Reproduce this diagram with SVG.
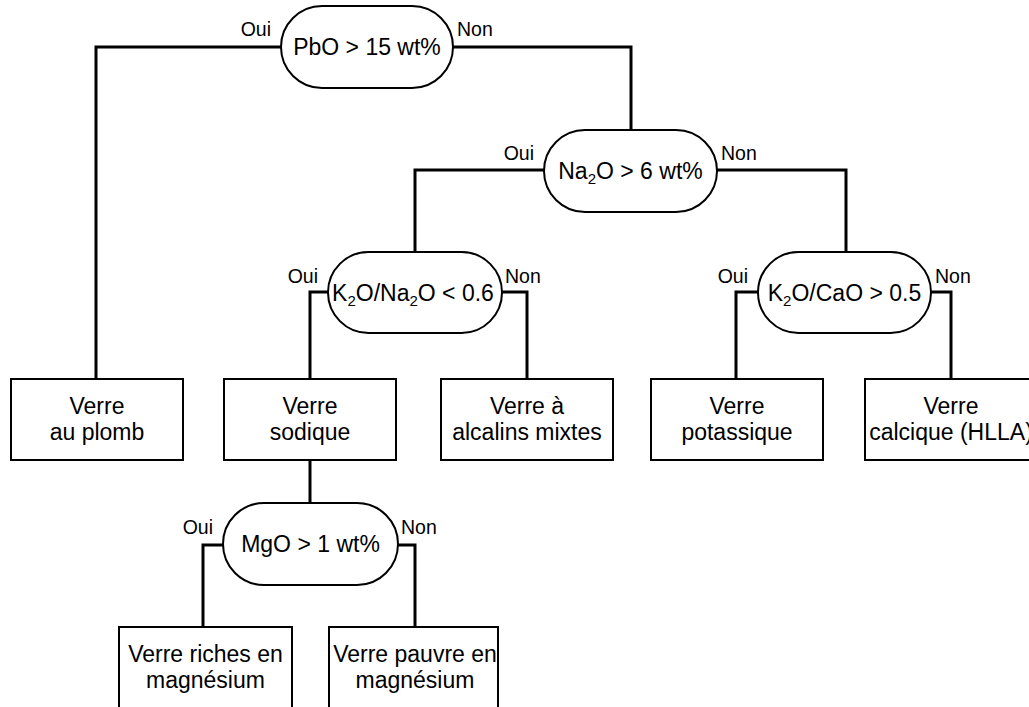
<svg xmlns="http://www.w3.org/2000/svg" width="1029" height="707" viewBox="0 0 1029 707">
<style>
.bg{fill:#ffffff}
.pill{fill:#ffffff;stroke:#000;stroke-width:2}
.box{fill:#ffffff;stroke:#000;stroke-width:2}
.conn{fill:none;stroke:#000;stroke-width:3}
.t{font-family:"Liberation Sans",Arial,sans-serif;font-size:23px;fill:#000;text-anchor:middle}
.lbl{font-family:"Liberation Sans",Arial,sans-serif;font-size:19.5px;fill:#000}
.oui{text-anchor:end}
.non{text-anchor:start}
.sub{font-size:15px}
</style>
<rect class="bg" x="0" y="0" width="1029" height="707"/>
<g id="connectors">
<polyline class="conn" points="281,47 96,47 96,379"/>
<polyline class="conn" points="453,47 631,47 631,130"/>
<polyline class="conn" points="544,170 415,170 415,252"/>
<polyline class="conn" points="717,170 846,170 846,252"/>
<polyline class="conn" points="328,292 310,292 310,379"/>
<polyline class="conn" points="502,292 527,292 527,379"/>
<polyline class="conn" points="758,292 736,292 736,379"/>
<polyline class="conn" points="931,292 951,292 951,379"/>
<polyline class="conn" points="310,460 310,503"/>
<polyline class="conn" points="223,545 203,545 203,627"/>
<polyline class="conn" points="398,545 415,545 415,627"/>
</g>
<g id="labels">
<text class="lbl oui" x="271" y="36">Oui</text>
<text class="lbl non" x="457" y="36">Non</text>
<text class="lbl oui" x="534" y="160">Oui</text>
<text class="lbl non" x="721" y="160">Non</text>
<text class="lbl oui" x="318" y="283">Oui</text>
<text class="lbl non" x="505" y="283">Non</text>
<text class="lbl oui" x="748" y="283">Oui</text>
<text class="lbl non" x="935" y="283">Non</text>
<text class="lbl oui" x="213" y="534">Oui</text>
<text class="lbl non" x="401" y="534">Non</text>
</g>
<g id="n-pbo">
<rect class="pill" x="281" y="6" width="172" height="82" rx="41" ry="41"/>
<text class="t" x="367" y="55">PbO &gt; 15 wt%</text>
</g>
<g id="n-na2o">
<rect class="pill" x="544" y="130" width="173" height="82" rx="41" ry="41"/>
<text class="t" x="630.5" y="179">Na<tspan class="sub" dy="5">2</tspan><tspan dy="-5">O &gt; 6 wt%</tspan></text>
</g>
<g id="n-k2ona2o">
<rect class="pill" x="328" y="252" width="174" height="81" rx="40.5" ry="40.5"/>
<text class="t" x="413" y="300.5">K<tspan class="sub" dy="5">2</tspan><tspan dy="-5">O/Na</tspan><tspan class="sub" dy="5">2</tspan><tspan dy="-5">O &lt; 0.6</tspan></text>
</g>
<g id="n-k2ocao">
<rect class="pill" x="758" y="252" width="173" height="81" rx="40.5" ry="40.5"/>
<text class="t" x="844.5" y="300.5">K<tspan class="sub" dy="5">2</tspan><tspan dy="-5">O/CaO &gt; 0.5</tspan></text>
</g>
<g id="n-mgo">
<rect class="pill" x="223" y="503" width="175" height="82" rx="41" ry="41"/>
<text class="t" x="310.5" y="552">MgO &gt; 1 wt%</text>
</g>
<g id="n-plomb">
<rect class="box" x="11" y="379" width="172" height="81"/>
<text class="t" x="97" y="414">Verre</text>
<text class="t" x="97" y="440">au plomb</text>
</g>
<g id="n-sodique">
<rect class="box" x="224" y="379" width="172" height="81"/>
<text class="t" x="310" y="414">Verre</text>
<text class="t" x="310" y="440">sodique</text>
</g>
<g id="n-alcalins">
<rect class="box" x="441" y="379" width="172" height="81"/>
<text class="t" x="527" y="414">Verre à</text>
<text class="t" x="527" y="440">alcalins mixtes</text>
</g>
<g id="n-potassique">
<rect class="box" x="651" y="379" width="172" height="81"/>
<text class="t" x="737" y="414">Verre</text>
<text class="t" x="737" y="440">potassique</text>
</g>
<g id="n-calcique">
<rect class="box" x="865" y="379" width="172" height="81"/>
<text class="t" x="951" y="414">Verre</text>
<text class="t" x="951" y="440">calcique (HLLA)</text>
</g>
<g id="n-riches">
<rect class="box" x="119" y="627" width="173" height="82"/>
<text class="t" x="205.5" y="662">Verre riches en</text>
<text class="t" x="205.5" y="688">magnésium</text>
</g>
<g id="n-pauvre">
<rect class="box" x="329" y="627" width="169" height="82"/>
<text class="t" x="415" y="662">Verre pauvre en</text>
<text class="t" x="415" y="688">magnésium</text>
</g>
</svg>
